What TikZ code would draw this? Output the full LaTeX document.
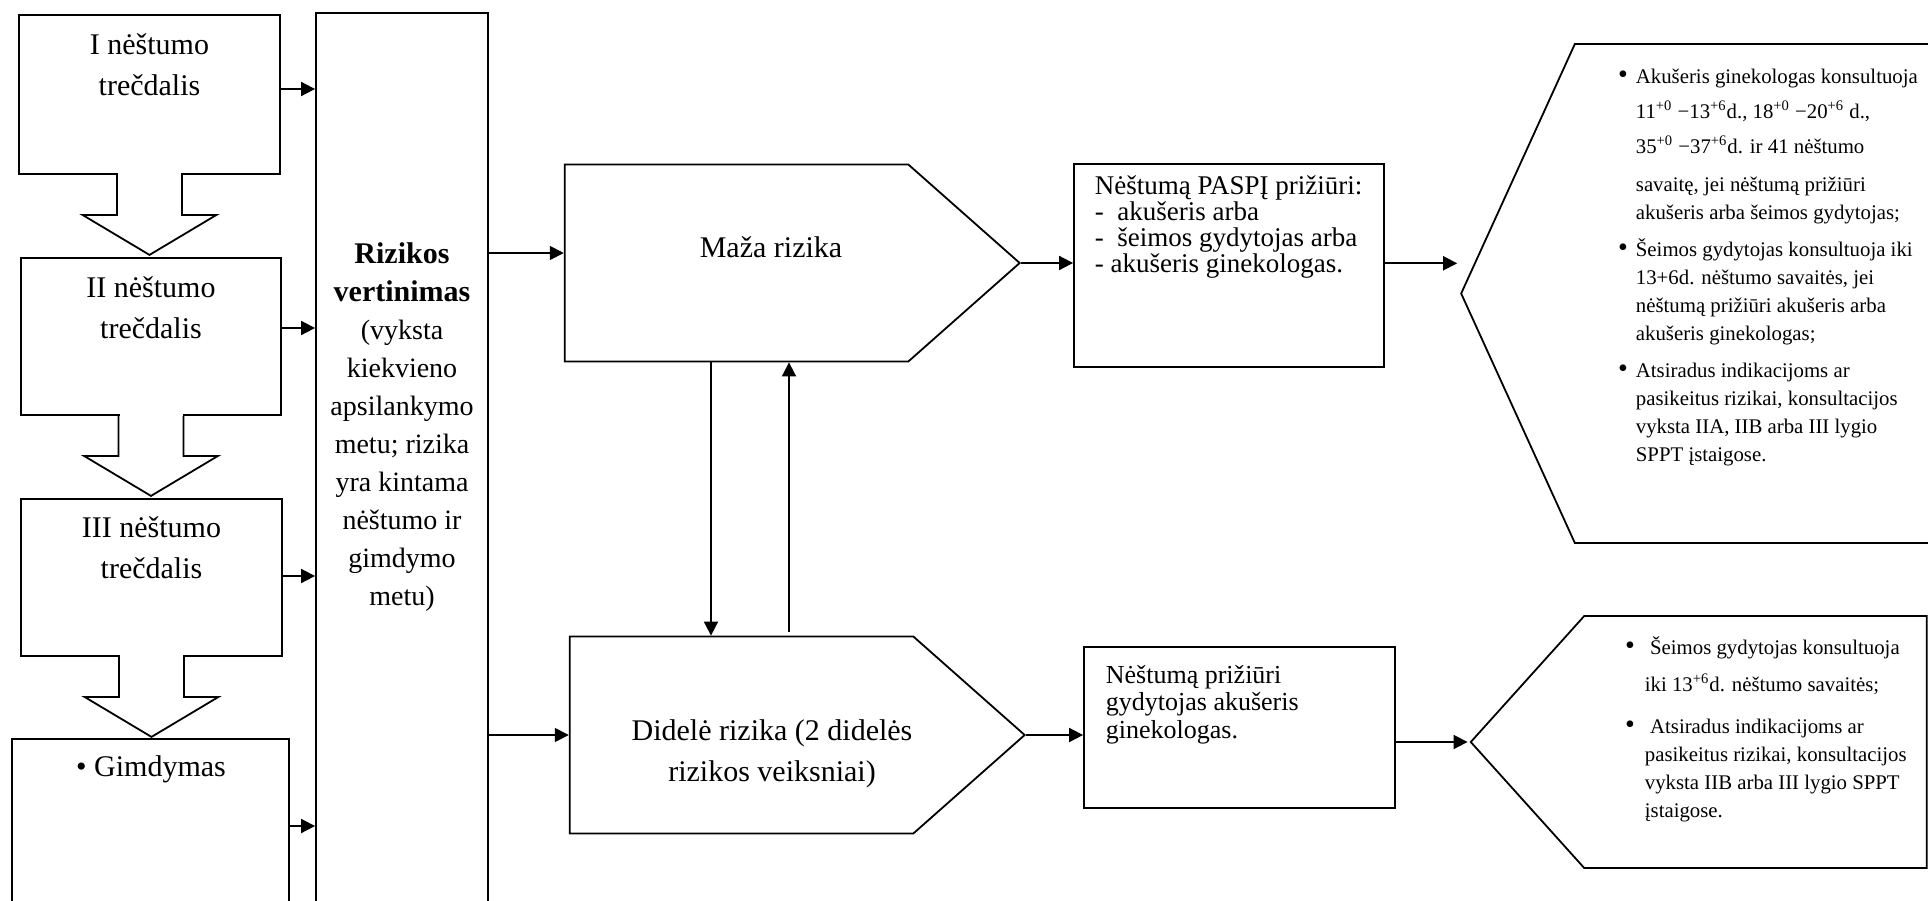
\documentclass[tikz,border=0pt]{standalone}
\usepackage{fontspec}
\setmainfont{Liberation Serif}
\usetikzlibrary{positioning,calc,arrows.meta,shapes.symbols}
\newcommand{\bul}[1][4pt]{\llap{{\fontsize{14}{14}\selectfont\textbullet}\hspace{#1}}}

\begin{document}
\begin{tikzpicture}[x=0.5pt, y=-0.5pt, line width=0.9pt,
    box/.style={draw, rectangle, inner sep=0pt},
    sig/.style={draw, signal, signal to=east, signal pointer angle=83, inner sep=0pt,
      minimum width=227.5pt, minimum height=98.5pt},
    tip/.style={-{Triangle[length=7pt,width=7pt]}},
    big/.style={align=center, font=\fontsize{15}{20.75}\selectfont},
    mid/.style={align=left, inner sep=0pt, font=\fontsize{13.5}{13}\selectfont},
    small/.style={align=left, inner sep=0pt, font=\fontsize{10.4}{14}\selectfont}]
  \useasboundingbox (0,0) rectangle (1928,900);
  % ---- pregnancy stages ----
  \node[box, minimum width=130.5pt, minimum height=79.5pt] (s1) at (149.5,94.5) {};
  \node[box, minimum width=130pt, minimum height=78.5pt] (s2) at (151,336.5) {};
  \node[box, minimum width=130.5pt, minimum height=78.5pt] (s3) at (151.5,577.5) {};
  \node[box, minimum width=138.5pt, minimum height=95.5pt] (s4) at (150.5,834.5) {};
  \node[big, anchor=base] (l1) at (149.5,95.5) {I nėštumo\\trečdalis};
  \node[big, anchor=base] (l2) at (151,338.5) {II nėštumo\\trečdalis};
  \node[big, anchor=base] (l3) at (151.5,578.5) {III nėštumo\\trečdalis};
  \node[big, anchor=base] (l4) at (151,776) {\textbullet\ Gimdymas};
  \foreach \a in {s1,s2,s3}{
    \fill[white] ($(\a.south)+(-31.5,-2)$) rectangle ($(\a.south)+(31.5,1)$);
    \draw ($(\a.south)+(-32.5,0)$) -- ++(0,40) -- ++(-34.5,0) -- ++(67,40) -- ++(67,-40) -- ++(-34.5,0) -- ++(0,-40);}
  % ---- risk assessment ----
  \node[box, minimum width=86pt, minimum height=458.5pt] (riz) at (402,471.5) {};
  \node[align=center, font=\fontsize{14}{19}\selectfont, anchor=base] (rt) at (402,605)
    {{\fontsize{15}{19}\selectfont\bfseries Rizikos}\\{\fontsize{15}{19}\selectfont\bfseries vertinimas}\\(vyksta\\kiekvieno\\apsilankymo\\metu; rizika\\yra kintama\\nėštumo ir\\gimdymo\\metu)};
  \foreach \b/\d in {s1/-5.5,s2/-8.5,s3/-1.5,s4/-8.5}
    \draw[tip] ($(\b.east)+(0,\d)$) -- ($(\b.east -| riz.west)+(0,\d)$);
  % ---- risk levels ----
  \node[sig] (maz) at (736.5,263) {};
  \node[sig] (did) at (741.5,735) {};
  \node[big, anchor=base] (mt) at (771,257) {Maža rizika};
  \node[big, anchor=base] (dt) at (772,781.5) {Didelė rizika (2 didelės\\rizikos veiksniai)};
  \draw[tip] ($(maz.west -| riz.east)+(0,-10)$) -- ($(maz.west)+(0,-10)$);
  \draw[tip] (did.west -| riz.east) -- (did.west);
  \coordinate (dn) at (711,0);
  \coordinate (up) at (789,632);
  \draw[tip] (dn |- maz.south) -- (dn |- did.north);
  \draw[tip] (up) -- (up |- maz.south);
  % ---- who looks after ----
  \node[box, minimum width=155pt, minimum height=101.5pt] (pp) at (1229,265.3) {};
  \node[box, minimum width=155.5pt, minimum height=80.5pt] (pg) at (1239.5,727.5) {};
  \node[mid, anchor=base west] (ppt) at (1094,272.5)
    {Nėštumą PASPĮ prižiūri:\\-\ \ akušeris arba\\-\ \ šeimos gydytojas arba\\- akušeris ginekologas.};
  \node[mid, anchor=base west, font=\fontsize{13}{13.75}\selectfont] (pgt) at (1105,738)
    {Nėštumą prižiūri\\gydytojas akušeris\\ginekologas.};
  \draw[tip] (maz.east) -- (maz.east -| pp.west);
  \draw[tip] (did.east) -- (did.east -| pg.west);
  % ---- consultations ----
  \node[draw, signal, signal to=west, signal pointer angle=131, inner sep=0pt,
    minimum width=242pt, minimum height=249.5pt] (na) at (1760,293.5) {};
  \node[draw, signal, signal to=west, signal pointer angle=96, inner sep=0pt,
    minimum width=228pt, minimum height=126pt] (nb) at (1755.5,742) {};
  \draw[tip] ($(pp.east)+(0,-2)$) -- ($(pp.east -| na.west)+(-3,-2)$);
  \draw[tip] (nb.west -| pg.east) -- ($(nb.west)+(-2,0)$);
  \node[small, anchor=base west] (nat) at (1635,461)
    {\bul Akušeris ginekologas konsultuoja\\[3.5pt]
     11\textsuperscript{+0} −13\textsuperscript{+6}d., 18\textsuperscript{+0} −20\textsuperscript{+6} d.,\\[3.5pt]
     35\textsuperscript{+0} −37\textsuperscript{+6}d. ir 41 nėštumo\\[5pt]
     savaitę, jei nėštumą prižiūri\\
     akušeris arba šeimos gydytojas;\\[4.5pt]
     \bul Šeimos gydytojas konsultuoja iki\\
     13+6d. nėštumo savaitės, jei\\
     nėštumą prižiūri akušeris arba\\
     akušeris ginekologas;\\[4.5pt]
     \bul Atsiradus indikacijoms ar\\
     pasikeitus rizikai, konsultacijos\\
     vyksta IIA, IIB arba III lygio\\
     SPPT įstaigose.};
  \node[small, anchor=base west] (nbt) at (1644,817)
    {\bul[5pt] Šeimos gydytojas konsultuoja\\[4.5pt]
     iki 13\textsuperscript{+6}d. nėštumo savaitės;\\[7pt]
     \bul[5pt] Atsiradus indikacijoms ar\\
     pasikeitus rizikai, konsultacijos\\
     vyksta IIB arba III lygio SPPT\\
     įstaigose.};
\end{tikzpicture}
\end{document}
